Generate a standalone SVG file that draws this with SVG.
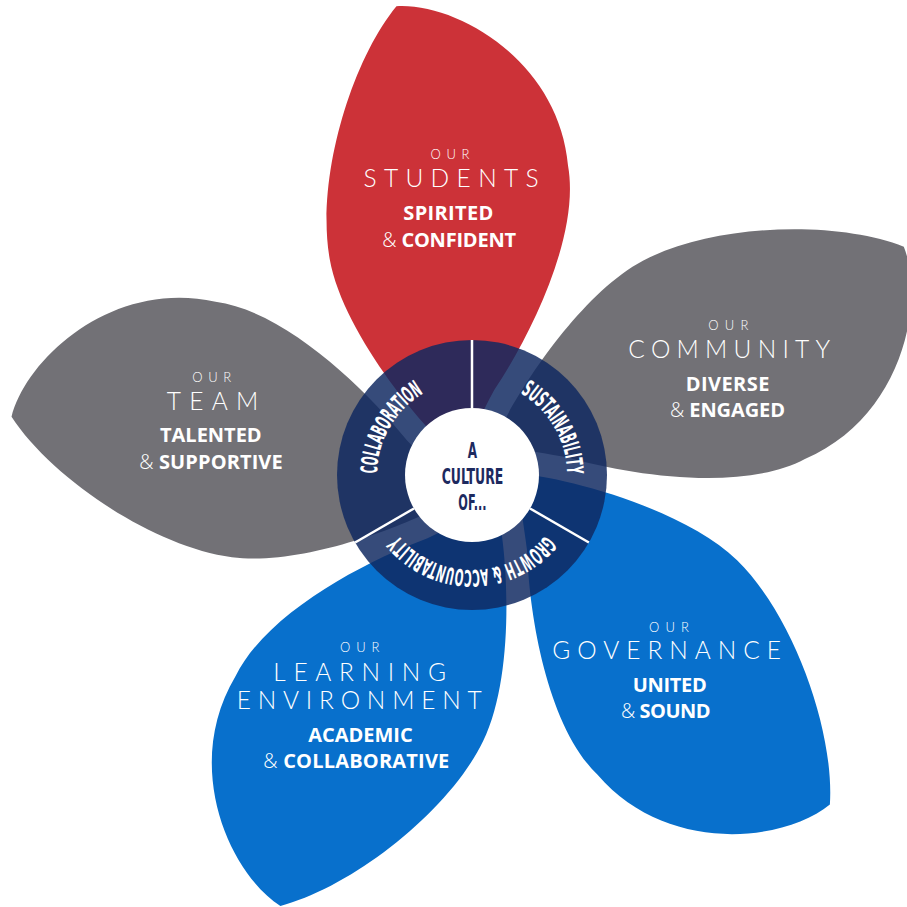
<svg xmlns="http://www.w3.org/2000/svg" width="907" height="907" viewBox="0 0 907 907">
<style>
.our{font-family:Lato,"Open Sans",sans-serif;font-weight:300;font-size:13px;fill:#fff;text-anchor:middle}
.ttl{font-family:Lato,"Open Sans",sans-serif;font-weight:300;font-size:24.5px;fill:#fff;text-anchor:middle}
.sub{font-family:"Open Sans",Lato,sans-serif;font-weight:700;font-size:20px;fill:#fff;text-anchor:middle}
.amp{font-weight:300}
.rt{font-family:"Liberation Sans Narrow","DejaVu Sans Condensed","Liberation Sans",sans-serif;font-weight:700;font-size:23px;fill:#fff;text-anchor:middle}
.ct{font-family:"Liberation Sans Narrow","DejaVu Sans Condensed","Liberation Sans",sans-serif;font-weight:700;font-size:22px;fill:#1d2a5f;text-anchor:middle}
.red{fill:#cc3238}.gray{fill:#727176}.blue{fill:#0870cc}
.div{stroke:#fff;stroke-width:2.5}
</style>
<defs>
<path id="petal" d="M -5,-477 C 55,-470 145,-395 136,-290 C 136,-220 70,-130 24,-82 C 8,-62 -8,-38 -25,-25 C -45,-45 -115,-160 -115,-240 C -115,-320 -60,-430 -5,-477 Z"/>
<path id="arcL" d="M 389.7 522.5 A 95 95 0 0 1 472 380"/>
<path id="arcR" d="M 472 380 A 95 95 0 0 1 554.3 522.5"/>
<path id="arcB" d="M 554.3 522.5 A 95 95 0 0 1 389.7 522.5"/>
</defs>
<rect width="907" height="907" fill="#fff"/>
<g id="petal-students">
<use href="#petal" class="red" transform="translate(485 475) rotate(-10.1)"/>
<text class="our" x="450" y="159.3" textLength="39" lengthAdjust="spacing">OUR</text>
<text class="ttl" x="451" y="186.7" textLength="175" lengthAdjust="spacing">STUDENTS</text>
<text class="sub" x="448.3" y="220" textLength="90" lengthAdjust="spacing">SPIRITED</text>
<text class="sub" x="449.2" y="246.7" textLength="133.7" lengthAdjust="spacing"><tspan class="amp">&amp;</tspan> CONFIDENT</text>
</g>
<g id="petal-community">
<use href="#petal" class="gray" transform="translate(485 475) rotate(62)"/>
<text class="our" x="728.3" y="330" textLength="40" lengthAdjust="spacing">OUR</text>
<text class="ttl" x="729.2" y="358.3" textLength="201.7" lengthAdjust="spacing">COMMUNITY</text>
<text class="sub" x="727.5" y="391" textLength="83.7" lengthAdjust="spacing">DIVERSE</text>
<text class="sub" x="727.5" y="416.7" textLength="115" lengthAdjust="spacing"><tspan class="amp">&amp;</tspan> ENGAGED</text>
</g>
<g id="petal-governance">
<use href="#petal" class="blue" transform="translate(485 475) rotate(134.3)"/>
<text class="our" x="669" y="631.7" textLength="40" lengthAdjust="spacing">OUR</text>
<text class="ttl" x="666.7" y="659.3" textLength="228.7" lengthAdjust="spacing">GOVERNANCE</text>
<text class="sub" x="669.7" y="691.7" textLength="74" lengthAdjust="spacing">UNITED</text>
<text class="sub" x="665.8" y="718.3" textLength="89.7" lengthAdjust="spacing"><tspan class="amp">&amp;</tspan> SOUND</text>
</g>
<g id="petal-learning">
<use href="#petal" class="blue" transform="translate(485 475) rotate(206)"/>
<text class="our" x="359.7" y="652.3" textLength="39.3" lengthAdjust="spacing">OUR</text>
<text class="ttl" x="359.7" y="680.7" textLength="172.7" lengthAdjust="spacing">LEARNING</text>
<text class="ttl" x="359.2" y="709.3" textLength="245" lengthAdjust="spacing">ENVIRONMENT</text>
<text class="sub" x="360.5" y="741.7" textLength="104.3" lengthAdjust="spacing">ACADEMIC</text>
<text class="sub" x="356.3" y="768.3" textLength="186" lengthAdjust="spacing"><tspan class="amp">&amp;</tspan> COLLABORATIVE</text>
</g>
<g id="petal-team">
<use href="#petal" class="gray" transform="translate(485 475) rotate(277.6)"/>
<text class="our" x="211.7" y="381.7" textLength="39" lengthAdjust="spacing">OUR</text>
<text class="ttl" x="212.5" y="410" textLength="91.7" lengthAdjust="spacing">TEAM</text>
<text class="sub" x="210.8" y="442.3" textLength="101.7" lengthAdjust="spacing">TALENTED</text>
<text class="sub" x="211" y="469" textLength="143.3" lengthAdjust="spacing"><tspan class="amp">&amp;</tspan> SUPPORTIVE</text>
</g>
<g id="hub">
<circle cx="472" cy="475" r="135" fill="#102860" fill-opacity="0.84"/>
<circle cx="472" cy="475" r="67" fill="#fff"/>
<text class="rt"><textPath href="#arcL" startOffset="50%" textLength="97" lengthAdjust="spacingAndGlyphs">COLLABORATION</textPath></text>
<text class="rt"><textPath href="#arcR" startOffset="50%" textLength="98" lengthAdjust="spacingAndGlyphs">SUSTAINABILITY</textPath></text>
<text class="rt"><textPath href="#arcB" startOffset="50%" textLength="168" lengthAdjust="spacingAndGlyphs">GROWTH &amp; ACCOUNTABILITY</textPath></text>
<text class="ct" x="472.4" y="458.3" textLength="9.3" lengthAdjust="spacingAndGlyphs">A</text>
<text class="ct" x="472.5" y="484" textLength="61.7" lengthAdjust="spacingAndGlyphs">CULTURE</text>
<text class="ct" x="472.5" y="510" textLength="28.3" lengthAdjust="spacingAndGlyphs">OF...</text>
</g>
<g id="connectors">
<line class="div" x1="472" y1="408" x2="472" y2="340"/>
<line class="div" x1="530" y1="508.5" x2="588.9" y2="542.5"/>
<line class="div" x1="414" y1="508.5" x2="355.1" y2="542.5"/>
</g>
</svg>
